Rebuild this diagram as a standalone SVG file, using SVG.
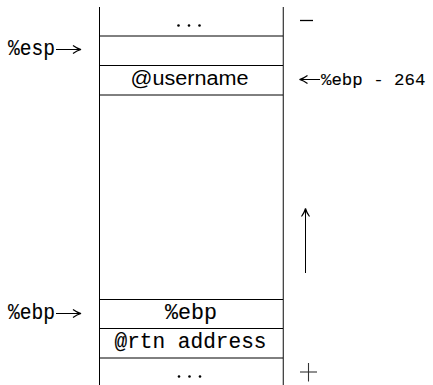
<svg xmlns="http://www.w3.org/2000/svg" width="433" height="385" viewBox="0 0 433 385">
<style>
.ln{stroke:#000;stroke-width:1;fill:none}
.rl{stroke:#333;stroke-width:1.2;fill:none}
.mono{font-family:"Liberation Mono","DejaVu Sans Mono",monospace;font-size:22px;fill:#000;stroke:#000;stroke-width:0.12}
.sans{font-family:"Liberation Sans",Arial,sans-serif;font-size:20px;fill:#000}
.dot{fill:#000}
</style>
<defs>
<marker id="ah" viewBox="0 0 10 10" refX="8" refY="5" markerWidth="10" markerHeight="10" markerUnits="userSpaceOnUse" orient="auto">
<path d="M1,1 Q5,4 9,5 Q5,6 1,9" fill="none" stroke="#000" stroke-width="1.2"/>
</marker>
</defs>
<g id="stack">
<line class="ln" x1="99.5" y1="7" x2="99.5" y2="385"/>
<line class="rl" x1="283.3" y1="7" x2="283.3" y2="385"/>
<line class="ln" x1="99.5" y1="36" x2="283" y2="36"/>
<line class="ln" x1="99.5" y1="65.5" x2="283" y2="65.5"/>
<line class="ln" x1="99.5" y1="95" x2="283" y2="95"/>
<line class="ln" x1="99.5" y1="299.5" x2="283" y2="299.5"/>
<line class="ln" x1="99.5" y1="328.5" x2="283" y2="328.5"/>
<line class="ln" x1="99.5" y1="358" x2="283" y2="358"/>
</g>
<g id="cell-top-dots">
<circle class="dot" cx="178.5" cy="25.5" r="1.3"/>
<circle class="dot" cx="189" cy="25.5" r="1.3"/>
<circle class="dot" cx="199.5" cy="25.5" r="1.3"/>
</g>
<g id="cell-username">
<text class="sans" x="189.5" y="85" text-anchor="middle" textLength="118" lengthAdjust="spacingAndGlyphs">@username</text>
</g>
<g id="cell-ebp">
<text class="mono" x="191" y="319" text-anchor="middle" textLength="52" lengthAdjust="spacingAndGlyphs">%ebp</text>
</g>
<g id="cell-rtn">
<text class="mono" x="190.5" y="348" text-anchor="middle" textLength="152" lengthAdjust="spacingAndGlyphs">@rtn address</text>
</g>
<g id="cell-bottom-dots">
<circle class="dot" cx="179" cy="376.5" r="1.3"/>
<circle class="dot" cx="189.5" cy="376.5" r="1.3"/>
<circle class="dot" cx="200" cy="376.5" r="1.3"/>
</g>
<g id="label-esp">
<text class="mono" x="8" y="55" textLength="47" lengthAdjust="spacingAndGlyphs">%esp</text>
<line class="ln" x1="56" y1="49.5" x2="80" y2="49.5" marker-end="url(#ah)"/>
</g>
<g id="label-ebp264">
<line class="ln" x1="320" y1="79.5" x2="300.5" y2="79.5" marker-end="url(#ah)"/>
<text class="mono" x="321" y="85" style="font-size:17.4px">%ebp - 264</text>
</g>
<g id="label-ebp">
<text class="mono" x="8" y="319" textLength="47" lengthAdjust="spacingAndGlyphs">%ebp</text>
<line class="ln" x1="56" y1="313.5" x2="80" y2="313.5" marker-end="url(#ah)"/>
</g>
<g id="sign-minus">
<line x1="300" y1="20.5" x2="313" y2="20.5" stroke="#000" stroke-width="1.3"/>
</g>
<g id="sign-plus">
<line x1="300" y1="372" x2="317" y2="372" stroke="#333" stroke-width="1.1"/>
<line x1="308.5" y1="363" x2="308.5" y2="381.5" stroke="#333" stroke-width="1.1"/>
</g>
<g id="connectors">
<line class="ln" x1="305.5" y1="273" x2="305.5" y2="209.5" marker-end="url(#ah)"/>
</g>
</svg>
